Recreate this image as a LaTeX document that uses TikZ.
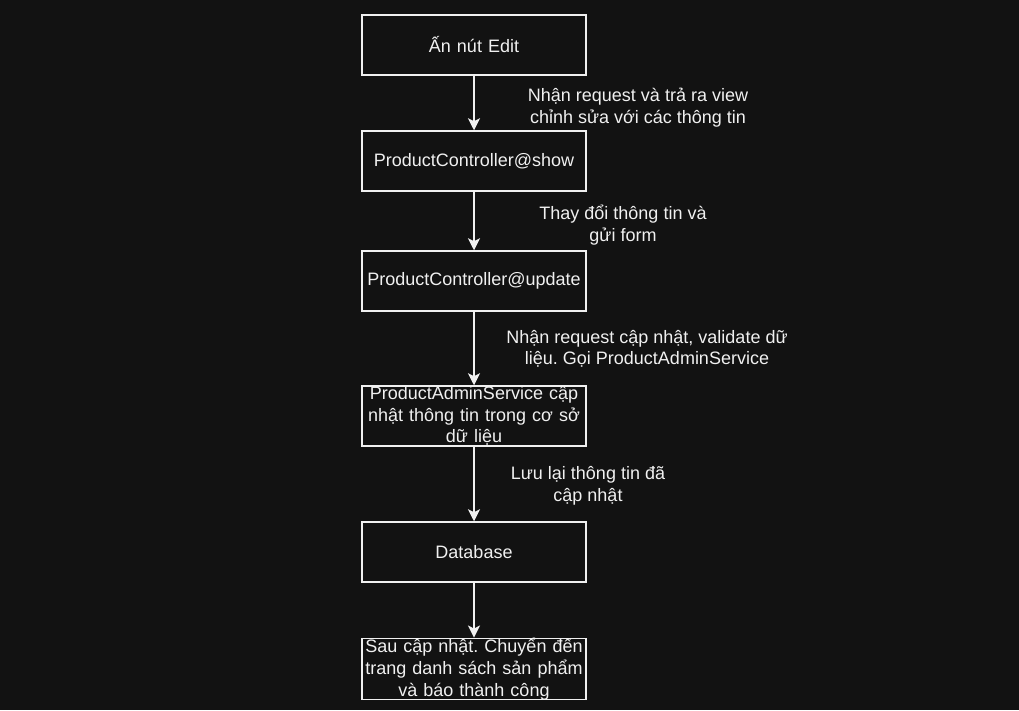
\documentclass[tikz,border=0pt]{standalone}
\usepackage{fontspec}
\setmainfont{Liberation Sans}
\frenchspacing
\usetikzlibrary{arrows.meta}
\definecolor{bgc}{RGB}{18,18,18}
\definecolor{fgc}{RGB}{240,240,240}

\begin{document}
\begin{tikzpicture}[x=1pt,y=-1pt,
    font=\fontsize{18}{21.6}\selectfont,
    box/.style={draw=fgc,fill=bgc,text=fgc,line width=1.5pt,minimum width=224,minimum height=60,inner sep=0pt,text width=222,align=center},
    lbl/.style={text=fgc,align=center,inner sep=0pt},
    flow/.style={draw=fgc,line width=1.5pt,-{Stealth[length=12pt,width=12pt,inset=3pt]}}]
    \fill[bgc] (0,0) rectangle (1019,710);
    \node[box] (edit) at (474,45) {Ấn nút Edit};
    \node[box] (show) at (474,161) {ProductController@show};
    \node[box] (update) at (474,281) {ProductController@update};
    \node[box] (service) at (474,416) {ProductAdminService cập\\nhật thông tin trong cơ sở\\dữ liệu};
    \node[box] (db) at (474,552) {Database};
    \node[box] (done) at (474,669) {Sau cập nhật. Chuyển đến\\trang danh sách sản phẩm\\và báo thành công};
    \draw[flow] (edit) -- (show);
    \draw[flow] (show) -- (update);
    \draw[flow] (update) -- (service);
    \draw[flow] (service) -- (db);
    \draw[flow] (db) -- (done);
    \node[lbl] (l1) at (638,107.5) {Nhận request và trả ra view\\chỉnh sửa với các thông tin};
    \node[lbl] (l2) at (623,225) {Thay đổi thông tin và\\gửi form};
    \node[lbl] (l3) at (647,349) {Nhận request cập nhật, validate dữ\\liệu. Gọi ProductAdminService};
    \node[lbl] (l4) at (588,486) {Lưu lại thông tin đã\\cập nhật};
\end{tikzpicture}
\end{document}
